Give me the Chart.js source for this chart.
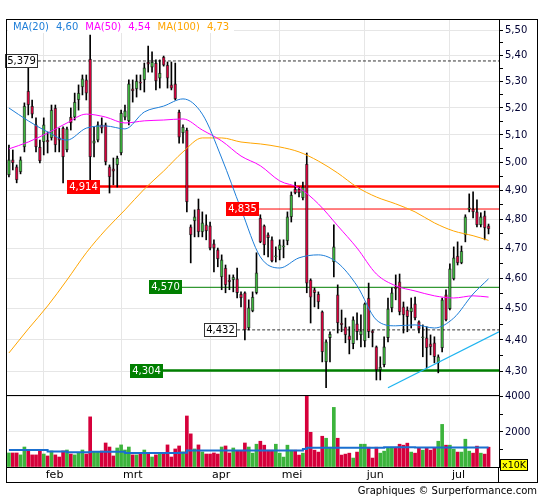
<!DOCTYPE html>
<html>
<head>
<meta charset="utf-8">
<script src="https://cdn.jsdelivr.net/npm/chart.js@4.4.1/dist/chart.umd.min.js"></script>
<style>
  html, body { margin: 0; padding: 0; background: #fff; }
  #wrap { position: relative; width: 545px; height: 500px; overflow: hidden; font-family: "DejaVu Sans", sans-serif; }
  canvas { position: absolute; left: 0; }
  #price { top: 0; }
  #vol { top: 380px; }
  .frame { position: absolute; left: 6px; top: 19px; width: 532px; height: 464px; border: 1px solid #000; box-sizing: border-box; }
  .vline { position: absolute; left: 498px; top: 467px; width: 1px; height: 15px; background: #000; }
  .unit { position: absolute; left: 500px; top: 459px; width: 28px; height: 12px; background: #ff0; border: 1px solid #000; box-sizing: border-box; font-size: 9.5px; line-height: 10px; text-align: center; color: #000; }
  .credit { position: absolute; right: 8px; top: 485px; font-size: 10px; line-height: 12px; color: #000; }
</style>
</head>
<body>
<div id="wrap">
  <canvas id="price" width="545" height="404"></canvas>
  <canvas id="vol" width="545" height="105"></canvas>
  <div class="frame"></div>
  <div class="vline"></div>
  <div class="unit">x10K</div>
  <div class="credit">Graphiques © Surperformance.com</div>
</div>
<script>
// koersdata per handelsdag (index 0 = eind januari)
const monthIdx = [9, 29, 52, 70, 92, 114];
const monthLabels = ['feb', 'mrt', 'apr', 'mei', 'jun', 'jul'];

const opens = [4.955,5.009,4.984,4.966,5.056,5.264,5.207,5.137,5.056,5.074,
  5.081,5.089,5.200,5.089,5.125,5.045,5.166,5.166,5.230,5.279,
  5.306,5.386,5.070,5.081,5.137,5.137,4.984,4.977,4.991,5.034,
  5.166,5.152,5.272,5.272,5.298,5.306,5.375,5.355,5.371,5.313,
  5.394,5.363,5.287,5.291,5.185,5.107,5.118,4.773,4.794,4.835,
  4.756,4.780,4.777,4.715,4.695,4.604,4.634,4.594,4.594,4.598,
  4.548,4.552,4.438,4.493,4.552,4.804,4.777,4.746,4.729,4.671,
  4.695,4.705,4.725,4.808,4.905,4.905,4.874,4.994,4.594,4.562,
  4.548,4.490,4.331,4.407,4.654,4.545,4.454,4.442,4.413,4.388,
  4.451,4.416,4.397,4.535,4.429,4.378,4.306,4.322,4.407,4.503,
  4.571,4.588,4.506,4.496,4.490,4.516,4.458,4.407,4.407,4.388,
  4.391,4.328,4.375,4.545,4.500,4.598,4.674,4.651,4.746,4.835,
  4.835,4.825,4.780,4.811,4.777];
const highs = [5.063,5.045,4.991,5.020,5.219,5.359,5.230,5.163,5.081,5.163,
  5.111,5.211,5.211,5.125,5.130,5.129,5.200,5.256,5.287,5.325,
  5.325,5.480,5.129,5.148,5.163,5.144,4.991,5.016,5.023,5.192,
  5.211,5.306,5.306,5.325,5.325,5.371,5.437,5.414,5.383,5.383,
  5.398,5.375,5.375,5.371,5.192,5.137,5.125,4.780,4.832,4.870,
  4.825,4.815,4.790,4.729,4.701,4.678,4.644,4.611,4.611,4.634,
  4.555,4.555,4.529,4.555,4.685,4.815,4.780,4.753,4.739,4.705,
  4.729,4.729,4.825,4.895,4.930,4.912,4.930,5.034,4.598,4.568,
  4.555,4.493,4.400,4.426,4.780,4.578,4.496,4.470,4.442,4.474,
  4.487,4.480,4.519,4.584,4.432,4.381,4.347,4.410,4.535,4.568,
  4.611,4.614,4.522,4.506,4.535,4.538,4.461,4.448,4.442,4.416,
  4.410,4.353,4.535,4.562,4.648,4.705,4.722,4.708,4.815,4.888,
  4.895,4.867,4.822,4.828,4.783];
const lows = [4.948,4.973,4.927,4.959,5.038,5.174,5.163,5.038,4.998,5.027,
  5.034,5.081,5.038,5.038,4.927,5.038,5.118,5.155,5.192,5.249,
  5.230,4.912,5.020,5.074,5.107,4.991,4.891,4.920,4.912,5.027,
  5.155,5.137,5.222,5.241,5.268,5.260,5.336,5.336,5.268,5.275,
  5.359,5.275,5.268,5.230,5.070,5.070,4.825,4.651,4.739,4.739,
  4.739,4.729,4.695,4.621,4.638,4.562,4.552,4.562,4.555,4.535,
  4.506,4.400,4.432,4.490,4.548,4.719,4.678,4.671,4.654,4.654,
  4.661,4.668,4.712,4.790,4.888,4.877,4.867,4.552,4.454,4.506,
  4.500,4.331,4.251,4.331,4.604,4.422,4.426,4.391,4.356,4.372,
  4.400,4.378,4.378,4.407,4.378,4.275,4.275,4.315,4.394,4.490,
  4.529,4.480,4.422,4.426,4.438,4.464,4.422,4.347,4.312,4.353,
  4.328,4.297,4.362,4.461,4.496,4.594,4.644,4.648,4.722,4.825,
  4.804,4.773,4.773,4.729,4.749];
const closes = [5.009,4.998,4.937,5.009,5.207,5.211,5.177,5.056,5.005,5.137,
  5.074,5.192,5.063,5.081,5.020,5.122,5.144,5.222,5.256,5.310,
  5.256,5.020,5.078,5.137,5.125,5.002,4.948,4.969,5.016,5.181,
  5.189,5.291,5.264,5.302,5.294,5.352,5.367,5.375,5.302,5.332,
  5.363,5.313,5.275,5.234,5.092,5.129,4.860,4.746,4.808,4.756,
  4.787,4.759,4.701,4.701,4.664,4.661,4.578,4.588,4.604,4.552,
  4.535,4.432,4.503,4.538,4.618,4.722,4.712,4.736,4.658,4.674,
  4.712,4.708,4.808,4.884,4.891,4.891,4.912,4.584,4.538,4.552,
  4.522,4.362,4.394,4.419,4.705,4.454,4.448,4.416,4.400,4.464,
  4.426,4.429,4.516,4.426,4.422,4.306,4.315,4.378,4.500,4.552,
  4.565,4.490,4.480,4.474,4.503,4.470,4.435,4.410,4.375,4.378,
  4.347,4.347,4.529,4.464,4.631,4.668,4.651,4.691,4.808,4.839,
  4.825,4.780,4.808,4.770,4.766];

// volume in x10K
const volumes = [800,800,800,690,1140,915,690,690,915,740,
  630,915,690,570,915,970,740,690,800,970,
  740,2860,860,860,915,1370,1140,630,1085,1260,
  970,1140,690,690,740,970,740,570,690,740,
  800,1260,570,1030,1200,860,2910,1890,1030,1260,
  860,740,740,800,740,1140,1200,800,1085,915,
  915,1370,1140,790,1300,1470,1245,960,960,1300,
  790,565,1245,960,960,680,790,4100,1980,960,
  850,1755,1640,1130,3400,1640,680,735,790,510,
  850,1300,1300,1130,510,1130,790,905,1075,1130,
  1130,1300,1245,1360,850,790,1075,960,1075,960,
  1075,1470,2430,1245,1245,1020,850,850,1585,905,
  790,1190,790,735,1130];

const maIdx = [0,5,10,15,20,25,30,35,40,45,50,55,60,65,70,75,80,85,90,95,100,105,110,115,120,124];
const ma20 = [5.200,5.152,5.111,5.081,5.125,5.133,5.122,5.185,5.207,5.234,5.177,5.016,4.835,
  4.671,4.634,4.668,4.678,4.651,4.575,4.464,4.445,4.448,4.438,4.470,4.548,4.598];
const ma50 = [5.049,5.074,5.107,5.144,5.177,5.166,5.144,5.152,5.155,5.159,5.118,5.078,5.023,
  4.988,4.934,4.909,4.853,4.777,4.701,4.614,4.575,4.558,4.542,4.535,4.542,4.538];
const ma100 = [4.359,4.435,4.509,4.594,4.685,4.763,4.832,4.905,4.969,5.038,5.089,5.089,5.074,
  5.067,5.056,5.038,5.005,4.962,4.912,4.877,4.853,4.825,4.787,4.759,4.743,4.727];

const volMaIdx = [0,10,15,21,30,44,46,76,77,97,105,124];
const volMaVal = [970,890,835,875,795,815,935,1020,1095,1130,1115,1115];

const levels = [5.379, 4.914, 4.835, 4.570, 4.432, 4.304];
const trendIdx = [98, 126.7];
const trendVal = [4.251, 4.426];

const priceTicks = [4.30,4.35,4.40,4.45,4.50,4.55,4.60,4.65,4.70,4.75,4.80,4.85,4.90,
  4.95,5.00,5.05,5.10,5.15,5.20,5.25,5.30,5.35,5.40,5.45,5.50];
const volTicks = [0, 1000, 2000, 3000, 4000];
const volLabels = [2000, 4000];

// opmaak
const X_MIN = -0.5, X_MAX = 126.7;
const UP = '#3cb43c', DOWN = '#d6003b';
const C20 = '#1e7ed8', C50 = '#ff00ff', C100 = '#ffa500';
const FONT = '"DejaVu Sans", sans-serif';
const GRID = '#e6e6e6';

const levelStyle = [
  { anchor: 7.5,  fill: '#fff',    text: '#000', edge: '#333', line: '#333', width: 1, dash: [3, 2] },
  { anchor: 23.5, fill: '#ff0000', text: '#fff', edge: null,   line: '#ff0000', width: 2.5 },
  { anchor: 64.7, fill: '#ff0000', text: '#fff', edge: null,   line: '#ff0000', width: 1 },
  { anchor: 44.7, fill: '#007f00', text: '#fff', edge: null,   line: '#007f00', width: 1 },
  { anchor: 59,   fill: '#fff',    text: '#000', edge: '#333', line: '#333', width: 1, dash: [3, 2] },
  { anchor: 39.8, fill: '#007f00', text: '#fff', edge: null,   line: '#007f00', width: 2.5 }
];

const fmt = (v, d) => v.toFixed(d).replace('.', ',');
const isUp = opens.map((o, i) => closes[i] >= o);

const legendItems = [
  { t: 'MA(20)', c: C20 }, { t: fmt(ma20[ma20.length - 1], 2), c: C20 },
  { t: 'MA(50)', c: C50 }, { t: fmt(ma50[ma50.length - 1], 2), c: C50 },
  { t: 'MA(100)', c: C100 }, { t: fmt(ma100[ma100.length - 1], 2), c: C100 }
];

const levelPlugin = {
  id: 'levelLabels',
  afterDatasetsDraw(chart) {
    const { ctx, scales: { x, y } } = chart;
    ctx.save();
    ctx.font = '10px ' + FONT;
    ctx.textAlign = 'center';
    ctx.textBaseline = 'middle';
    levels.forEach((v, i) => {
      const s = levelStyle[i];
      const txt = fmt(v, 3);
      const w = Math.round(ctx.measureText(txt).width) + 4;
      const right = Math.round(x.getPixelForValue(s.anchor));
      const yy = Math.round(y.getPixelForValue(v));
      ctx.fillStyle = s.fill;
      ctx.fillRect(right - w, yy - 7, w, 14);
      if (s.edge) {
        ctx.strokeStyle = s.edge;
        ctx.lineWidth = 1;
        ctx.strokeRect(right - w + 0.5, yy - 6.5, w - 1, 13);
      }
      ctx.fillStyle = s.text;
      ctx.fillText(txt, right - w / 2, yy + 0.5);
    });
    ctx.restore();
  }
};

const legendPlugin = {
  id: 'maLegend',
  afterDraw(chart) {
    const ctx = chart.ctx;
    ctx.save();
    ctx.font = '10px ' + FONT;
    ctx.textBaseline = 'middle';
    ctx.fillStyle = '#fff';
    ctx.fillRect(8, 21, 226, 12);
    let xx = 13;
    legendItems.forEach(it => {
      ctx.fillStyle = it.c;
      ctx.fillText(it.t, xx, 27);
      xx += ctx.measureText(it.t).width + 7;
    });
    ctx.restore();
  }
};

const maLine = (vals, color) => ({
  type: 'line',
  data: maIdx.map((v, k) => ({ x: v, y: vals[k] })),
  borderColor: color,
  borderWidth: 1,
  pointRadius: 0,
  cubicInterpolationMode: 'monotone',
  order: 1
});

const priceDatasets = [
  {
    type: 'bar',
    data: opens.map((_, i) => ({ x: i, y: [lows[i], highs[i]] })),
    backgroundColor: '#000',
    barThickness: 1,
    grouped: false,
    order: 3
  },
  {
    type: 'bar',
    data: opens.map((o, i) => ({ x: i, y: [o, closes[i]] })),
    backgroundColor: isUp.map(u => u ? UP : DOWN),
    borderColor: 'rgba(0,0,0,0.55)',
    borderWidth: 1,
    borderSkipped: false,
    barThickness: 3,
    minBarLength: 1,
    grouped: false,
    order: 2
  },
  maLine(ma20, C20),
  maLine(ma50, C50),
  maLine(ma100, C100),
  {
    type: 'line',
    data: trendIdx.map((v, k) => ({ x: v, y: trendVal[k] })),
    borderColor: '#1eb4f0',
    borderWidth: 1.3,
    pointRadius: 0,
    order: 1
  }
].concat(levels.map((v, i) => ({
  type: 'line',
  data: [{ x: levelStyle[i].anchor, y: v }, { x: X_MAX, y: v }],
  borderColor: levelStyle[i].line,
  borderWidth: levelStyle[i].width,
  borderDash: levelStyle[i].dash || [],
  pointRadius: 0,
  order: 5
})));

new Chart(document.getElementById('price'), {
  type: 'bar',
  data: { datasets: priceDatasets },
  options: {
    responsive: false,
    animation: false,
    devicePixelRatio: 1,
    events: [],
    layout: { padding: { left: 7, right: 8, top: 20, bottom: 9 } },
    plugins: { legend: { display: false }, tooltip: { enabled: false } },
    scales: {
      x: {
        type: 'linear', min: X_MIN, max: X_MAX, offset: false, bounds: 'data',
        afterBuildTicks: s => { s.ticks = monthIdx.map(v => ({ value: v })); },
        afterFit: s => { s.height = 0; },
        ticks: { display: false },
        grid: { color: GRID, drawTicks: false, offset: false },
        border: { color: '#000' }
      },
      y: {
        type: 'logarithmic', position: 'right', min: 4.229, max: 5.54, bounds: 'data',
        afterBuildTicks: s => { s.ticks = priceTicks.map(v => ({ value: v })); },
        afterFit: s => { s.width = 38; },
        ticks: {
          autoSkip: false, padding: 2, color: '#000033',
          font: { family: FONT, size: 10 },
          callback: v => Math.round(v * 100) % 10 === 0 ? fmt(v, 2) : ''
        },
        grid: {
          color: c => (c.tick && Math.round(c.tick.value * 100) % 10 === 0) ? GRID : 'rgba(0,0,0,0)',
          tickColor: '#000', tickLength: 4
        },
        border: { color: '#000' }
      }
    }
  },
  plugins: [levelPlugin, legendPlugin]
});

new Chart(document.getElementById('vol'), {
  type: 'bar',
  data: {
    datasets: [
      {
        type: 'bar',
        data: volumes.map((v, i) => ({ x: i, y: v })),
        backgroundColor: isUp.map(u => u ? UP : DOWN),
        barThickness: 3,
        grouped: false,
        order: 2
      },
      {
        type: 'line',
        data: volMaIdx.map((v, k) => ({ x: v, y: volMaVal[k] })),
        stepped: true,
        borderColor: '#1a6fd0',
        borderWidth: 2,
        pointRadius: 0,
        order: 1
      }
    ]
  },
  options: {
    responsive: false,
    animation: false,
    devicePixelRatio: 1,
    events: [],
    layout: { padding: { left: 7, right: 8, top: 16, bottom: 3 } },
    plugins: { legend: { display: false }, tooltip: { enabled: false } },
    scales: {
      x: {
        type: 'linear', min: X_MIN, max: X_MAX, offset: false, bounds: 'data',
        afterBuildTicks: s => { s.ticks = monthIdx.map(v => ({ value: v })); },
        afterFit: s => { s.height = 15; },
        ticks: {
          autoSkip: false, maxRotation: 0, align: 'start', labelOffset: 2, padding: 2,
          color: '#000', font: { family: FONT, size: 11 },
          callback: v => monthLabels[monthIdx.indexOf(v)] || ''
        },
        grid: { color: GRID, drawTicks: false, offset: false },
        border: { color: '#000' }
      },
      y: {
        type: 'linear', position: 'right', min: 0, max: 4050, bounds: 'data',
        afterBuildTicks: s => { s.ticks = volTicks.map(v => ({ value: v })); },
        afterFit: s => { s.width = 38; },
        ticks: {
          autoSkip: false, padding: 2, color: '#000033',
          font: { family: FONT, size: 10 },
          callback: v => volLabels.includes(v) ? String(v) : ''
        },
        grid: {
          color: c => (c.tick && volLabels.includes(c.tick.value)) ? GRID : 'rgba(0,0,0,0)',
          tickColor: c => (c.tick && c.tick.value === 0) ? 'rgba(0,0,0,0)' : '#000',
          tickLength: 4
        },
        border: { color: '#000' }
      }
    }
  }
});
</script>
</body>
</html>
